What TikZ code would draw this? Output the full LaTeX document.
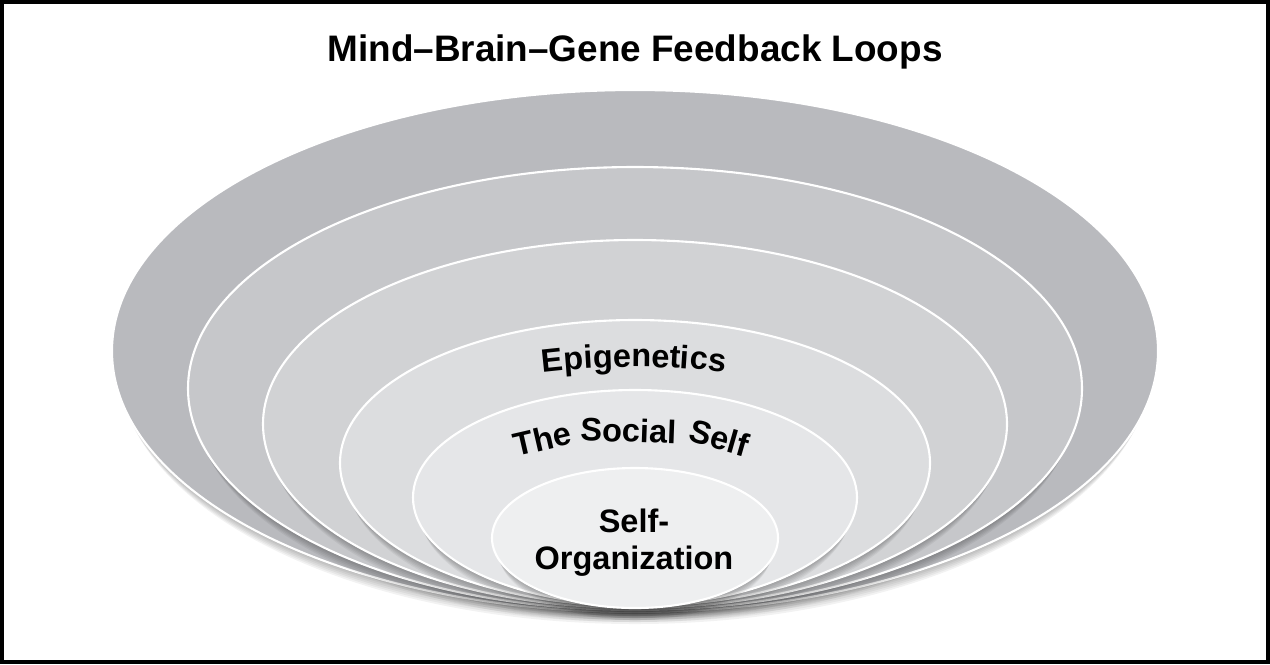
\documentclass[tikz,border=0pt]{standalone}
\usepackage{fontspec}
\setmainfont{Liberation Sans}
\usetikzlibrary{decorations.text}
\definecolor{ringA}{RGB}{185,186,190}
\definecolor{ringB}{RGB}{198,199,202}
\definecolor{ringC}{RGB}{209,210,212}
\definecolor{ringD}{RGB}{220,221,223}
\definecolor{ringE}{RGB}{229,230,232}
\definecolor{ringF}{RGB}{238,239,240}
\tikzset{
  ring/.style={fill=#1, draw=white, line width=1.2pt},
  loopname/.style={font=\bfseries\fontsize{18.5}{21}\selectfont, align=center},
  arclabel/.style={decorate, decoration={text along path, text align=center,
      text={|\bfseries\fontsize{18.5}{21}\selectfont|#1}}}
}
\begin{document}
\begin{tikzpicture}[x=0.02cm, y=-0.02cm]
  \useasboundingbox (0,0) rectangle (1270,664);
  \draw[line width=2.4pt] (2,2) rectangle (1268,662);
  \node[font=\bfseries\fontsize{21}{24}\selectfont, anchor=base] (title) at (635,61) {Mind–Brain–Gene Feedback Loops};
  % rings, outside in, each with a soft shadow under it
  \foreach \cy/\rx/\ry/\tone in {351/523/261/ringA, 388.5/447/221.5/ringB, 424/372/184/ringC,
                                 463/295/143/ringD, 497.5/222/107.5/ringE, 538/143/70/ringF}{
    \foreach \d in {2,4,6,8,10,12}
      \fill[black, opacity=.05] (635,\cy+\d) ellipse [x radius=\rx-\d/2, y radius=\ry];
    \draw[ring=\tone] (635,\cy) ellipse [x radius=\rx, y radius=\ry];
  }
  \path[arclabel=Epigenetics] (530,374) .. controls (599.3,364.7) and (668.7,364.7) .. (738,374);
  \node[loopname, inner sep=0pt, anchor=base, rotate=13] (the) at (545,450) {The};
  \node[loopname, inner sep=0pt, anchor=base, rotate=-2] (social) at (628,442) {Social};
  \node[loopname, inner sep=0pt, anchor=base, rotate=-16] (self) at (716,449) {Self};
  \node[loopname] (core) at (634,543) {Self-\\Organization};
\end{tikzpicture}
\end{document}
